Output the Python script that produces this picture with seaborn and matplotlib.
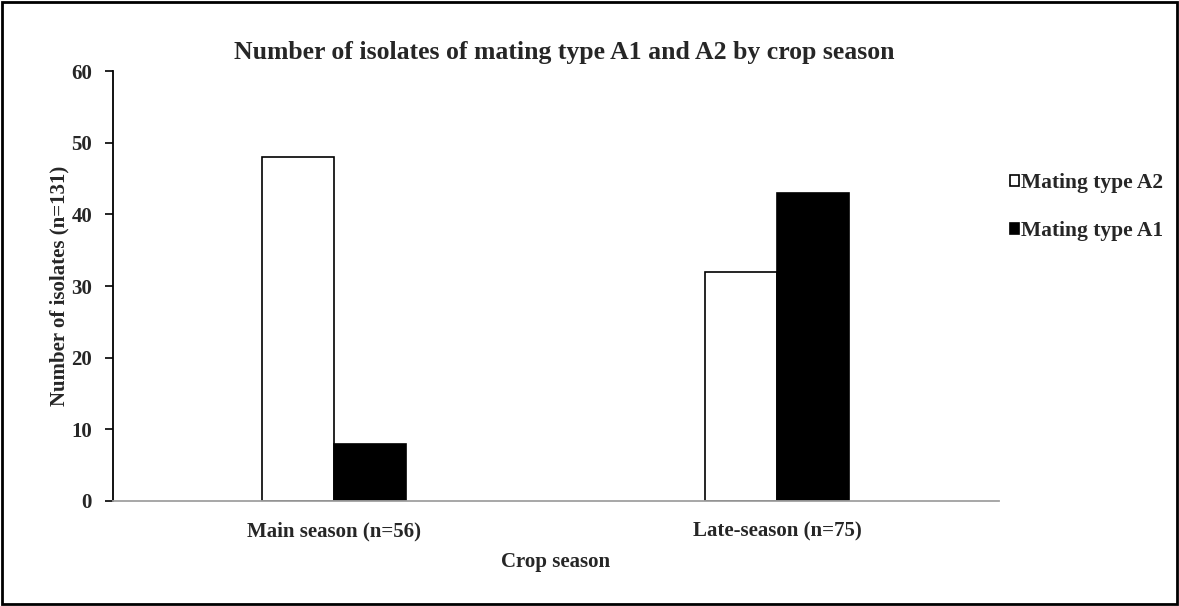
import matplotlib
matplotlib.use("Agg")
import matplotlib.pyplot as plt
import seaborn as sns
import pandas as pd
from matplotlib.patches import Rectangle

seasons = ["Main season (n=56)", "Late-season (n=75)"]
mating_types = ["Mating type A2", "Mating type A1"]
a2_counts = [48, 32]
a1_counts = [8, 43]

df = pd.DataFrame({
    "season": seasons * 2,
    "type": [mating_types[0]] * 2 + [mating_types[1]] * 2,
    "count": a2_counts + a1_counts,
})

sns.set_style("white")
plt.rcParams["font.family"] = ["Liberation Serif", "DejaVu Serif"]
plt.rcParams["font.weight"] = "bold"

fig = plt.figure(figsize=(11.79, 6.06), dpi=100)
ax = fig.add_axes([0.0958, 0.1733, 0.7515, 0.7095])

sns.barplot(
    data=df, x="season", y="count", hue="type",
    hue_order=mating_types, order=seasons,
    palette=["white", "black"], edgecolor="black", linewidth=1.2,
    width=0.325, ax=ax
)

ax.set_ylim(0, 60)
ax.set_yticks(range(0, 61, 10))
ax.set_xlim(-0.5, 1.5)

for s in ["top", "right"]:
    ax.spines[s].set_visible(False)
ax.spines["left"].set_color("black")
ax.spines["left"].set_linewidth(1.3)
ax.spines["bottom"].set_color("#a0a0a0")
ax.spines["bottom"].set_linewidth(1.3)
ax.spines["bottom"].set_zorder(5)

ax.tick_params(axis="y", left=True, length=6, width=1.2, color="black",
               labelsize=15, pad=9)
ax.tick_params(axis="x", bottom=False, labelsize=15, pad=11)
for lbl in ax.get_xticklabels() + ax.get_yticklabels():
    lbl.set_fontweight("bold")

ax.set_xlabel("Crop season", fontsize=15, fontweight="bold", labelpad=8)
ax.set_ylabel("Number of isolates (n=131)", fontsize=15, fontweight="bold", labelpad=1)
fig.text(0.479, 0.914, "Number of isolates of mating type A1 and A2 by crop season",
         ha="center", va="center", fontsize=18.5, fontweight="bold")

leg = ax.legend(loc="center left", bbox_to_anchor=(1.0, 0.683), frameon=False,
                handlelength=0.42, handleheight=0.42, handletextpad=0.1,
                labelspacing=1.3, borderaxespad=0.1,
                prop={"size": 15.5, "weight": "bold"})

fig.patches.append(Rectangle((0.002, 0.003), 0.996, 0.994, transform=fig.transFigure,
                             fill=False, edgecolor="black", linewidth=2))

fig.savefig("out.png", dpi=100)
